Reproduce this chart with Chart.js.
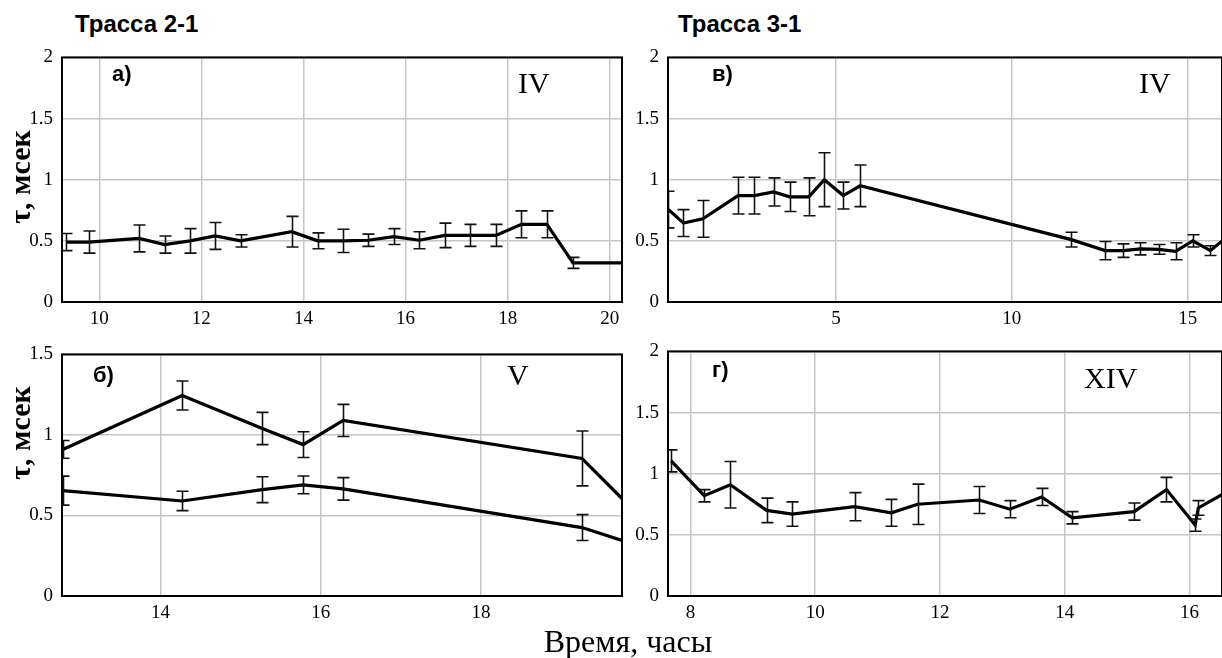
<!DOCTYPE html>
<html lang="ru">
  <head>
    <meta charset="utf-8" />
    <title>tau</title>
    <script src="https://cdn.jsdelivr.net/npm/chart.js@4.4.1/dist/chart.umd.min.js"></script>
    <style>
      body { margin: 0; background: #fff; }
      #page { position: relative; width: 1222px; height: 658px; overflow: hidden; background: #fff; }
      canvas { position: absolute; }
      .t { position: absolute; line-height: 1; white-space: nowrap; color: #000; }
      .sans { font-family: "Liberation Sans", Arial, sans-serif; font-weight: bold; }
      .serif { font-family: "Liberation Serif", "Times New Roman", serif; }
      .rot { transform: translate(-50%, -50%) rotate(-90deg); }
    </style>
  </head>

  <body>
    <div id="page">
      <canvas id="pa" width="640" height="295" style="left:0;top:37px"></canvas>
      <canvas id="pv" width="592" height="295" style="left:630px;top:37px"></canvas>
      <canvas id="pb" width="640" height="290" style="left:0;top:334px"></canvas>
      <canvas id="pg" width="592" height="294" style="left:630px;top:331px"></canvas>

      <div class="t sans" style="left:75px;top:12px;font-size:24px">Трасса 2-1</div>
      <div class="t sans" style="left:678px;top:12px;font-size:24px">Трасса 3-1</div>

      <div class="t sans" style="left:112px;top:63px;font-size:22px">а)</div>
      <div class="t serif" style="left:518px;top:68px;font-size:30px">IV</div>
      <div class="t sans" style="left:712px;top:63px;font-size:22px">в)</div>
      <div class="t serif" style="left:1139px;top:68px;font-size:30px">IV</div>
      <div class="t sans" style="left:93px;top:364px;font-size:22px">б)</div>
      <div class="t serif" style="left:507px;top:360px;font-size:30px">V</div>
      <div class="t sans" style="left:712px;top:359px;font-size:22px">г)</div>
      <div class="t serif" style="left:1084px;top:363px;font-size:30px">XIV</div>

      <div class="t serif rot" style="left:20px;top:177px;font-size:30px;font-weight:bold">τ, мсек</div>
      <div class="t serif rot" style="left:20px;top:433px;font-size:30px;font-weight:bold">τ, мсек</div>
      <div class="t serif" style="left:628px;top:625px;font-size:32px;transform:translateX(-50%)">Время, часы</div>
    </div>

    <script>
      // а) трасса 2-1, IV
      var aX = [9.35, 9.8, 10.78, 11.28, 11.78, 12.27, 12.77, 13.77, 14.28, 14.77, 15.27, 15.77, 16.27, 16.77, 17.27, 17.77, 18.27, 18.77, 19.28, 20.4];
      var aY = [0.49, 0.49, 0.52, 0.47, 0.5, 0.54, 0.5, 0.575, 0.5, 0.5, 0.505, 0.535, 0.505, 0.545, 0.545, 0.545, 0.635, 0.635, 0.32, 0.32];
      var aErr = [0.07, 0.09, 0.11, 0.07, 0.1, 0.11, 0.05, 0.125, 0.065, 0.095, 0.05, 0.065, 0.07, 0.1, 0.09, 0.09, 0.11, 0.11, 0.045, 0];
      var aXTicks = [10, 12, 14, 16, 18, 20];

      // в) трасса 3-1, IV
      var vX = [0.24, 0.67, 1.22, 2.22, 2.68, 3.23, 3.69, 4.23, 4.67, 5.21, 5.69, 11.69, 12.65, 13.17, 13.65, 14.17, 14.65, 15.14, 15.64, 16.1];
      var vY = [0.756, 0.645, 0.68, 0.87, 0.87, 0.9, 0.86, 0.86, 1.0, 0.87, 0.95, 0.51, 0.42, 0.42, 0.435, 0.43, 0.415, 0.5, 0.42, 0.53];
      var vErr = [0.15, 0.11, 0.15, 0.15, 0.15, 0.115, 0.12, 0.155, 0.22, 0.11, 0.17, 0.06, 0.075, 0.055, 0.05, 0.04, 0.07, 0.05, 0.04, 0];
      var vXTicks = [5, 10, 15];

      // б) трасса 2-1, V (две кривые)
      var bX = [12.78, 14.27, 15.27, 15.78, 16.28, 19.26, 19.76];
      var bUpY = [0.91, 1.245, 1.04, 0.94, 1.09, 0.854, 0.605];
      var bUpErr = [0.055, 0.09, 0.1, 0.08, 0.1, 0.17, 0];
      var bLoY = [0.654, 0.59, 0.66, 0.69, 0.665, 0.425, 0.345];
      var bLoErr = [0.09, 0.06, 0.08, 0.055, 0.07, 0.08, 0];
      var bXTicks = [14, 16, 18];

      // г) трасса 3-1, XIV
      var gX = [7.69, 8.22, 8.64, 9.22, 9.63, 10.63, 11.22, 11.64, 12.63, 13.12, 13.63, 14.12, 15.11, 15.63, 16.09, 16.14, 16.7];
      var gY = [1.105, 0.82, 0.91, 0.7, 0.67, 0.73, 0.68, 0.75, 0.785, 0.71, 0.81, 0.64, 0.69, 0.87, 0.58, 0.72, 0.88];
      var gErr = [0.09, 0.05, 0.19, 0.1, 0.1, 0.115, 0.11, 0.165, 0.11, 0.07, 0.07, 0.05, 0.07, 0.1, 0.05, 0.06, 0];
      var gXTicks = [8, 10, 12, 14, 16];

      var yTicks2 = [0, 0.5, 1, 1.5, 2];
      var yTicks15 = [0, 0.5, 1, 1.5];

      // рамка вокруг графика + погрешности
      var boxPlugin = {
        id: "box",
        afterDatasetsDraw: function (chart) {
          var ctx = chart.ctx;
          var a = chart.chartArea;
          var xs = chart.scales.x, ys = chart.scales.y;
          ctx.save();
          ctx.beginPath();
          ctx.rect(a.left, a.top, a.right - a.left, a.bottom - a.top);
          ctx.clip();
          ctx.strokeStyle = "#111";
          ctx.lineWidth = 1.6;
          chart.data.datasets.forEach(function (ds) {
            ds.data.forEach(function (p, i) {
              var e = ds.errors[i];
              if (!e) return;
              var px = Math.round(xs.getPixelForValue(p.x)) + 0.5;
              var y1 = ys.getPixelForValue(p.y + e);
              var y2 = ys.getPixelForValue(p.y - e);
              ctx.beginPath();
              ctx.moveTo(px, y1); ctx.lineTo(px, y2);
              ctx.moveTo(px - 6, y1); ctx.lineTo(px + 6, y1);
              ctx.moveTo(px - 6, y2); ctx.lineTo(px + 6, y2);
              ctx.stroke();
            });
          });
          ctx.restore();
          ctx.save();
          ctx.strokeStyle = "#000";
          ctx.lineWidth = 2;
          ctx.strokeRect(a.left, a.top, a.right - a.left, a.bottom - a.top);
          ctx.restore();
        },
      };

      function pts(xs, ys) {
        return xs.map(function (x, i) { return { x: x, y: ys[i] }; });
      }

      function drawPanel(id, series, xr, yMax, xTicks, yTicks, pad, yWidth, xHeight) {
        var ctx = document.getElementById(id).getContext("2d");
        var tickFont = { family: "'Liberation Serif', 'Times New Roman', serif", size: 19 };
        var grid = { color: "#c6c6c6", lineWidth: 1.5, drawTicks: false };
        return new Chart(ctx, {
          type: "line",
          data: {
            datasets: series.map(function (s) {
              return {
                data: s.data,
                errors: s.errors,
                borderColor: "#000",
                borderWidth: 3.2,
                pointRadius: 0,
                tension: 0,
                fill: false,
              };
            }),
          },
          options: {
            animation: false,
            responsive: false,
            devicePixelRatio: 1,
            layout: { padding: pad },
            plugins: { legend: { display: false }, tooltip: { enabled: false } },
            scales: {
              x: {
                type: "linear",
                min: xr[0],
                max: xr[1],
                grid: grid,
                border: { display: false },
                afterBuildTicks: function (s) { s.ticks = xTicks.map(function (v) { return { value: v }; }); },
                afterFit: function (s) { s.height = xHeight; },
                ticks: { font: tickFont, color: "#000", padding: 6, maxRotation: 0, autoSkip: false,
                  callback: function (v) { return String(v); } },
              },
              y: {
                min: 0,
                max: yMax,
                grid: grid,
                border: { display: false },
                afterBuildTicks: function (s) { s.ticks = yTicks.map(function (v) { return { value: v }; }); },
                afterFit: function (s) { s.width = yWidth; },
                ticks: { font: tickFont, color: "#000", padding: 9,
                  callback: function (v) { return String(v); } },
              },
            },
          },
          plugins: [boxPlugin],
        });
      }

      drawPanel("pa", [{ data: pts(aX, aY), errors: aErr }], [9.27, 20.24], 2, aXTicks, yTicks2,
        { top: 10, right: 18, left: 0, bottom: 0 }, 62, 30);
      drawPanel("pv", [{ data: pts(vX, vY), errors: vErr }], [0.23, 15.97], 2, vXTicks, yTicks2,
        { top: 10, right: 0, left: 0, bottom: 0 }, 38, 30);
      drawPanel("pb", [
        { data: pts(bX, bUpY), errors: bUpErr },
        { data: pts(bX, bLoY), errors: bLoErr },
      ], [12.77, 19.76], 1.5, bXTicks, yTicks15, { top: 10, right: 18, left: 0, bottom: 0 }, 62, 28);
      drawPanel("pg", [{ data: pts(gX, gY), errors: gErr }], [7.64, 16.52], 2, gXTicks, yTicks2,
        { top: 10, right: 0, left: 0, bottom: 0 }, 38, 29);
    </script>
  </body>
</html>
